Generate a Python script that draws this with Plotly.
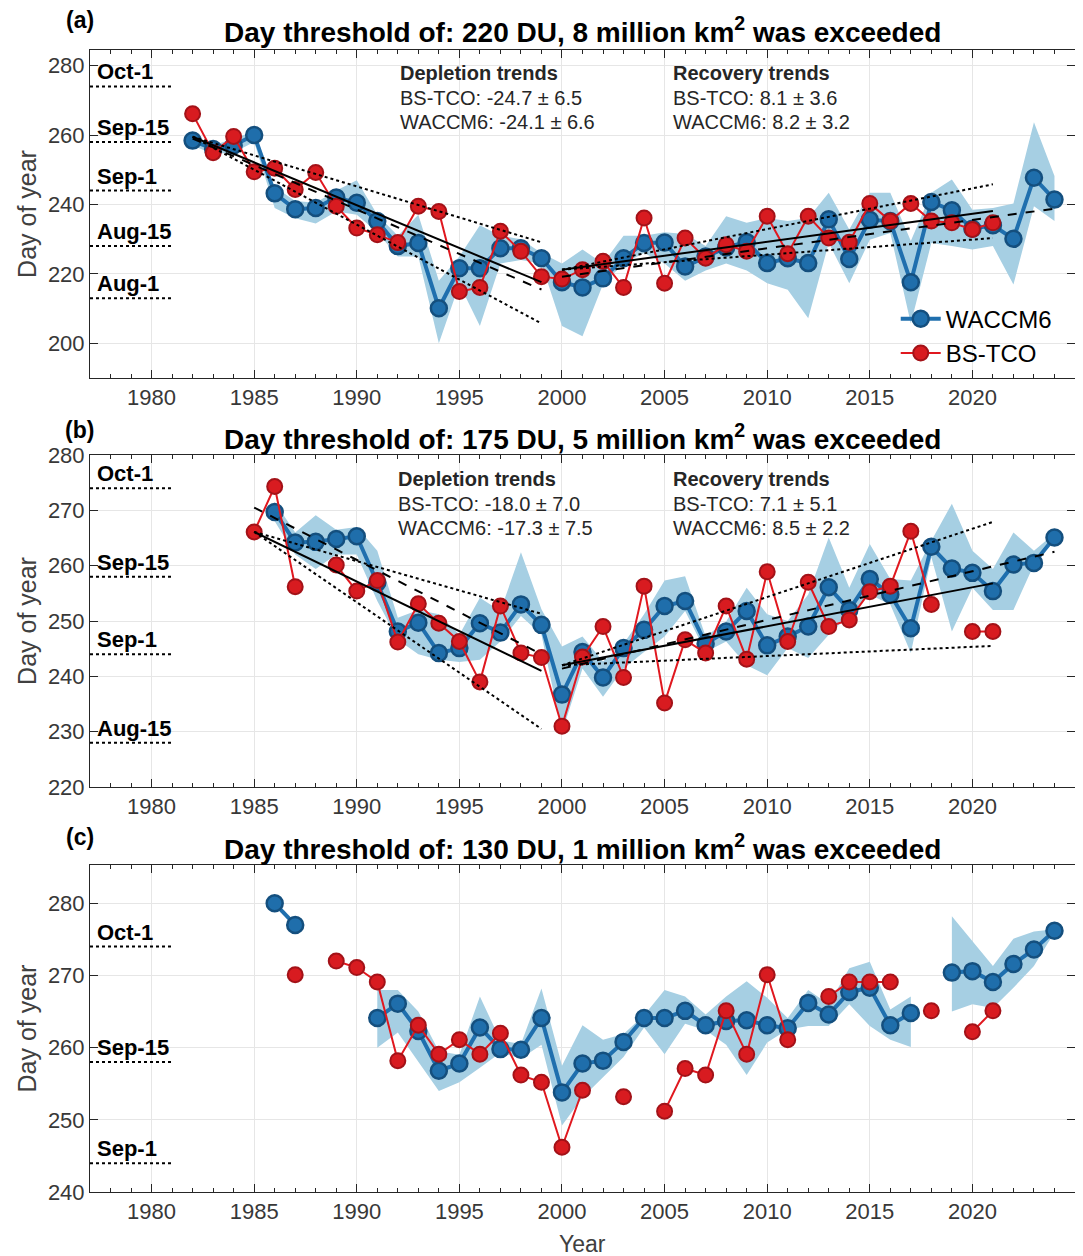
import plotly.graph_objects as go

# ---------------- DATA ----------------
years_a = list(range(1982, 2025))
waccm_a = [258.4, 256, 257, 260, 243.2, 238.6, 239, 242, 240.5, 235.2, 228, 228.9, 210.1, 221.6, 221.6,
           227.4, 227.4, 224.5, 217.6, 216.1, 218.7, 224.5, 228.9, 229, 222.1, 225, 227.6, 229.2, 223.1,
           224.5, 223.1, 235.7, 224.3, 235.6, 235.2, 217.6, 240.7, 238.3, 233, 234, 230.1, 247.7, 241.4]
bstco_a = [266.1, 254.9, 259.6, 249.4, 250.4, 244.3, 249.2, 239.5, 233.2, 231.3, 229, 239.5, 238, 214.9,
           216.1, 232.3, 226.5, 219.2, 218.5, 221.2, 223.6, 216.1, 236.1, 217.3, 230.3, 224.5, 228.4, 226.5,
           236.6, 225.8, 236.6, 230.3, 229.1, 240.3, 235.2, 240.3, 235.2, 234.7, 232.8, 234.7, None, None, None]
lo_a = [257, 254.5, 255, 258, 239, 236, 234.5, 238, 237, 232, 225, 225, 200, 217, 205, 223, 224, 223,
        205, 202, 217, 223, 226, 223, 218, 221, 223, 221, 217.3, 215.4, 207.2, 228.9, 217.3, 229.8,
        231.8, 205.7, 228.9, 228, 227, 228, 216.9, 239.5, 235.2]
hi_a = [259.5, 257, 259, 261, 245, 241, 240.5, 244, 247, 237, 231, 237, 218, 225, 234, 231, 230, 226,
        223, 227, 223, 231, 231, 232, 231.5, 228, 236.6, 234.7, 236.1, 235.2, 236.1, 243.4, 232.8, 243.4,
        243.4, 229.5, 243.4, 247.2, 238.5, 239, 240.3, 263.7, 248.2]

years_b = list(range(1985, 2025))
waccm_b = [None, 269.7, 264.2, 264.3, 264.8, 265.3, 256.9, 248.1, 249.7, 244.2, 245.1, 249.6, 247.9, 253,
           249.3, 236.7, 244.4, 239.8, 245.1, 248.4, 252.7, 253.6, 245.9, 248.1, 251.8, 245.6, 247.2, 249,
           256.1, 252, 257.6, 254.8, 248.7, 263.4, 259.5, 258.7, 255.4, 260.2, 260.5, 265.1]
bstco_b = [266.1, 274.3, 256.2, None, 260.1, 255.4, 257.3, 246.2, 253.1, 249.6, 246.3, 239, 252.7, 244.2,
           243.4, 231, 243.5, 249, 239.8, 256.3, 235.2, 246.6, 244.2, 252.7, 243.1, 258.9, 246.3, 257, 249,
           250.2, 255.3, 256.3, 266.2, 253, None, 248.1, 248.1, None, None, None]
lo_b = [None, 268, 262, 259.4, 262, 262, 253.6, 246.6, 244, 243, 242.6, 243, 246.3, 250.9, 247.5, 229.9,
        241.4, 236.3, 241.4, 244.4, 247.2, 251.8, 244.4, 246.3, 242, 240.2, 245.1, 243.3, 247.5, 251.2,
        254.8, 253, 244.2, 261.5, 248.1, 256, 252, 252, 260.2, 264.8]
hi_b = [None, 271.5, 266, 269.1, 266.5, 267, 262.7, 250.6, 252, 251.2, 247.5, 254.2, 251.8, 262.4, 252.1,
        245.4, 247.2, 242.7, 245.9, 251.2, 257.3, 258.1, 247.2, 249.9, 256, 251.2, 250, 254.8, 265.1, 256,
        263.9, 257.6, 257.3, 264.5, 271.2, 262.7, 259.4, 266, 262.7, 265.8]

years_c = list(range(1986, 2025))
waccm_c = [280, 277, None, None, None, 264.1, 266.1, 262.3, 256.8, 257.8, 262.8, 259.8, 259.7, 264.1, 253.8,
           257.8, 258.2, 260.8, 264.1, 264.1, 265.1, 263.1, 263.7, 263.8, 263.1, 262.7, 266.2, 264.6, 267.7,
           268.3, 263.1, 264.8, None, 270.4, 270.6, 269.1, 271.6, 273.6, 276.2]
bstco_c = [None, 270.1, None, 272, 271.1, 269.1, 258.2, 263.1, 259.1, 261.1, 259.1, 262, 256.2, 255.2, 246.2,
           254.1, None, 253.2, None, 251.2, 257.1, 256.2, 265.1, 259.1, 270.1, 261.1, None, 267.1, 269.1,
           269.1, 269.1, None, 265.1, None, 262.2, 265.1, None, None, None]
lo_c = [None, None, None, None, None, 260, 262.1, 258, 254, 255.2, 257.2, 259.3, 258.5, 260.4, 249.2, 253.1,
        255.9, 258.7, 262.8, 259.1, 263.3, 262.4, 260.4, 256.2, 260.7, 262.5, 263, 263, 266, 263, 261.1,
        260.1, None, 265, 266, 265.5, 268.3, 271.3, 276]
hi_c = [None, None, None, None, None, 268, 268, 265, 259.5, 259, 267.1, 261, 260.5, 268.2, 257.5, 263.1,
        261.1, 261.9, 264.5, 268, 267.1, 264.6, 267.1, 269.2, 266.9, 264.1, 268, 266, 271, 271.9, 265.3,
        267.1, None, 278.2, 274.7, 271.3, 275.1, 276.1, 276.4]

# trend lines (end points)
dep_x_a = [1982, 1999]
dep_bs_a = [259.5, 217.6]
dep_wa_a = [259.0, 215.5]
dep_hi_a = [259.5, 229.1]
dep_lo_a = [259.5, 205.7]
rec_x_a = [2000, 2021]
rec_bs_a = [221.2, 238.1]
rec_hi_a = [221.2, 245.8]
rec_lo_a = [221.2, 230.3]
rec_xw_a = [2000, 2024]
rec_wa_a = [219.2, 238.8]

dep_x_b = [1985, 1999]
dep_bs_b = [266.1, 241.0]
dep_wa_b = [270.5, 244.0]
dep_hi_b = [266.1, 251.3]
dep_lo_b = [266.1, 230.5]
rec_x_b = [2000, 2021]
rec_bs_b = [242.0, 256.8]
rec_hi_b = [242.0, 267.9]
rec_lo_b = [242.0, 245.5]
rec_xw_b = [2000, 2024]
rec_wa_b = [241.4, 262.5]

ref_days = [213, 228, 244, 258, 274]
ref_labels = ["Aug-1", "Aug-15", "Sep-1", "Sep-15", "Oct-1"]
ref_x = [1977, 1981]

titles = ["Day threshold of: 220 DU, 8 million km<sup>2</sup> was exceeded",
          "Day threshold of: 175 DU, 5 million km<sup>2</sup> was exceeded",
          "Day threshold of: 130 DU, 1 million km<sup>2</sup> was exceeded"]
panel_labels = ["(a)", "(b)", "(c)"]
trend_text = {
    "a": (["BS-TCO: -24.7 ± 6.5", "WACCM6: -24.1 ± 6.6"], ["BS-TCO: 8.1 ± 3.6", "WACCM6: 8.2 ± 3.2"]),
    "b": (["BS-TCO: -18.0 ± 7.0", "WACCM6: -17.3 ± 7.5"], ["BS-TCO: 7.1 ± 5.1", "WACCM6: 8.5 ± 2.2"]),
}
xtick_vals = [1980, 1985, 1990, 1995, 2000, 2005, 2010, 2015, 2020]

# ---------------- STYLE ----------------
BLUE_LINE = "#1f6fae"
BLUE_FILL = "#1f6eab"
BLUE_EDGE = "#144f7e"
RED_LINE = "#e0181f"
RED_FILL = "#d81b20"
RED_EDGE = "#a31218"
SHADE = "#a6cfe3"
FONT = "Liberation Sans, Arial, Helvetica, sans-serif"
AXC = "#262626"

fig = go.Figure()


def segments(xs, lo, hi):
    segs, cur = [], []
    for x, l, h in zip(xs, lo, hi):
        if l is None or h is None:
            if cur:
                segs.append(cur)
            cur = []
        else:
            cur.append((x, l, h))
    if cur:
        segs.append(cur)
    return segs


panels = [
    ("x", "y", years_a, waccm_a, bstco_a, lo_a, hi_a),
    ("x2", "y2", years_b, waccm_b, bstco_b, lo_b, hi_b),
    ("x3", "y3", years_c, waccm_c, bstco_c, lo_c, hi_c),
]

for i, (xr, yr, yrs, wa, bs, lo, hi) in enumerate(panels):
    for seg in segments(yrs, lo, hi):
        sx = [s[0] for s in seg]
        px = sx + sx[::-1]
        py = [s[2] for s in seg] + [s[1] for s in seg][::-1]
        fig.add_trace(go.Scatter(x=px, y=py, xaxis=xr, yaxis=yr, fill="toself", fillcolor=SHADE,
                                 line=dict(width=0, color=SHADE), mode="lines", hoverinfo="skip",
                                 showlegend=False))
    fig.add_trace(go.Scatter(x=yrs, y=wa, xaxis=xr, yaxis=yr, mode="lines+markers", name="WACCM6",
                             line=dict(color=BLUE_LINE, width=4),
                             marker=dict(size=16, color=BLUE_FILL, line=dict(color=BLUE_EDGE, width=2.5)),
                             connectgaps=False, showlegend=(i == 0), legendrank=1))
    fig.add_trace(go.Scatter(x=yrs, y=bs, xaxis=xr, yaxis=yr, mode="lines+markers", name="BS-TCO",
                             line=dict(color=RED_LINE, width=2),
                             marker=dict(size=15, color=RED_FILL, line=dict(color=RED_EDGE, width=2)),
                             connectgaps=False, showlegend=(i == 0), legendrank=2))

trend_sets = [
    ("x", "y", dep_x_a, dep_bs_a, dep_wa_a, dep_hi_a, dep_lo_a, rec_x_a, rec_bs_a, rec_hi_a, rec_lo_a, rec_xw_a, rec_wa_a),
    ("x2", "y2", dep_x_b, dep_bs_b, dep_wa_b, dep_hi_b, dep_lo_b, rec_x_b, rec_bs_b, rec_hi_b, rec_lo_b, rec_xw_b, rec_wa_b),
]
for (xr, yr, dx, dbs, dwa, dhi, dlo, rx, rbs, rhi, rlo, rxw, rwa) in trend_sets:
    for xx, yy, dash in [(dx, dbs, "solid"), (dx, dwa, "dash"), (dx, dhi, "dot"), (dx, dlo, "dot"),
                         (rx, rbs, "solid"), (rxw, rwa, "dash"), (rx, rhi, "dot"), (rx, rlo, "dot")]:
        fig.add_trace(go.Scatter(x=xx, y=yy, xaxis=xr, yaxis=yr, mode="lines",
                                 line=dict(color="black", width=2, dash=dash),
                                 showlegend=False, hoverinfo="skip"))

annotations = []
ref_ranges = [(190, 284.5), (220, 280), (240, 285.3)]
for i, (xr, yr, *_rest) in enumerate(panels):
    lo_r, hi_r = ref_ranges[i]
    for d, lab in zip(ref_days, ref_labels):
        if lo_r < d < hi_r:
            fig.add_trace(go.Scatter(x=ref_x, y=[d, d], xaxis=xr, yaxis=yr, mode="lines",
                                     line=dict(color="black", width=2, dash="dot"),
                                     showlegend=False, hoverinfo="skip"))
            annotations.append(dict(x=1977.25, y=d, xref=xr, yref=yr, text="<b>%s</b>" % lab,
                                    showarrow=False, xanchor="left", yanchor="bottom", yshift=0,
                                    font=dict(family=FONT, size=22, color="black")))

# trend text
text_pos = {"a": ("x", "y", 1992.0, [277.9, 270.7, 263.8]),
            "b": ("x2", "y2", 1991.9, [275.6, 271.2, 266.8])}
for key, (xr, yr, x0, ys) in text_pos.items():
    dep, rec = trend_text[key]
    for xx, head, lines in [(x0, "Depletion trends", dep), (2005.3, "Recovery trends", rec)]:
        annotations.append(dict(x=xx, y=ys[0], xref=xr, yref=yr, text="<b>%s</b>" % head, showarrow=False,
                                xanchor="left", yanchor="middle", font=dict(family=FONT, size=20, color=AXC)))
        for yy, t in zip(ys[1:], lines):
            annotations.append(dict(x=xx, y=yy, xref=xr, yref=yr, text=t, showarrow=False,
                                    xanchor="left", yanchor="middle", font=dict(family=FONT, size=20, color=AXC)))

# titles and panel labels
title_y = [1.0175, 0.661, 0.302]
label_y = [1.0263, 0.6673, 0.3109]
for t, ty, lab, ly in zip(titles, title_y, panel_labels, label_y):
    annotations.append(dict(x=0.5, y=ty, xref="paper", yref="paper", text="<b>%s</b>" % t, showarrow=False,
                            xanchor="center", yanchor="middle", font=dict(family=FONT, size=28, color="black")))
    annotations.append(dict(x=-0.0102, y=ly, xref="paper", yref="paper", text="<b>%s</b>" % lab,
                            showarrow=False, xanchor="center", yanchor="middle",
                            font=dict(family=FONT, size=23, color="black")))
annotations.append(dict(x=0.5, y=-0.0455, xref="paper", yref="paper", text="Year", showarrow=False,
                        xanchor="center", yanchor="middle", font=dict(family=FONT, size=23, color="#404040")))


def xaxis(anchor):
    return dict(anchor=anchor, range=[1977, 2025], tickmode="array", tickvals=xtick_vals,
                ticks="inside", ticklen=8, tickcolor=AXC, showline=True, linecolor=AXC, linewidth=1,
                mirror="ticks", showgrid=True, gridcolor="#e6e6e6", gridwidth=1, zeroline=False,
                tickfont=dict(family=FONT, size=22, color="#383838"),
                minor=dict(dtick=1, tick0=1977, ticks="inside", ticklen=4, tickcolor=AXC, showgrid=False))


def yaxis(anchor, rng, tv, dom):
    return dict(anchor=anchor, range=list(rng), domain=dom, tickmode="array", tickvals=tv,
                ticks="inside", ticklen=8, tickcolor=AXC, showline=True, linecolor=AXC, linewidth=1,
                mirror="ticks", showgrid=True, gridcolor="#e6e6e6", gridwidth=1, zeroline=False,
                tickfont=dict(family=FONT, size=22, color="#383838"),
                title=dict(text="Day of year", font=dict(family=FONT, size=25, color="#404040"), standoff=4))


fig.update_layout(
    width=1075, height=1248,
    margin=dict(l=82, r=8, t=42, b=64, autoexpand=False),
    plot_bgcolor="white", paper_bgcolor="white",
    font=dict(family=FONT),
    xaxis=xaxis("y"), xaxis2=xaxis("y2"), xaxis3=xaxis("y3"),
    yaxis=yaxis("x", ref_ranges[0], [200, 220, 240, 260, 280], [0.7128, 1.0]),
    yaxis2=yaxis("x2", ref_ranges[1], [220, 230, 240, 250, 260, 270, 280], [0.3546, 0.6454]),
    yaxis3=yaxis("x3", ref_ranges[2], [240, 250, 260, 270, 280], [0.0, 0.2863]),
    annotations=annotations,
    showlegend=True,
    legend=dict(x=0.818, y=0.784, xanchor="left", yanchor="top", bgcolor="rgba(0,0,0,0)",
                font=dict(family=FONT, size=24, color="black"), itemwidth=40, tracegroupgap=0,
                traceorder="normal"),
)

fig.write_html("out.html")
